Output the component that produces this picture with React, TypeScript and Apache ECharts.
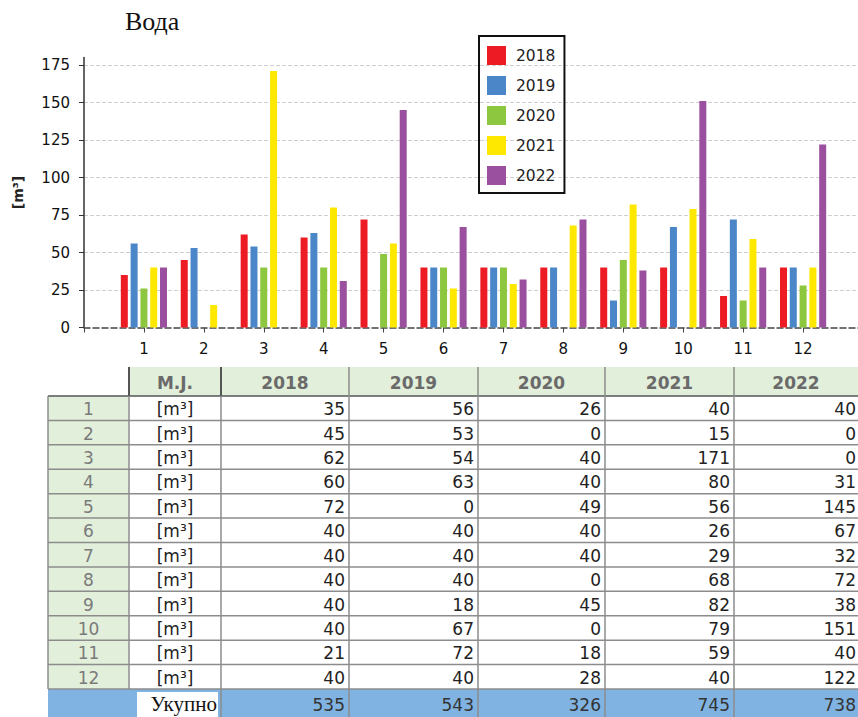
import React, { useEffect, useRef } from "react";
import * as echarts from "echarts";

const months = [1, 2, 3, 4, 5, 6, 7, 8, 9, 10, 11, 12];
const years = ["2018", "2019", "2020", "2021", "2022"];
const s2018 = [35, 45, 62, 60, 72, 40, 40, 40, 40, 40, 21, 40];
const s2019 = [56, 53, 54, 63, 0, 40, 40, 40, 18, 67, 72, 40];
const s2020 = [26, 0, 40, 40, 49, 40, 40, 0, 45, 0, 18, 28];
const s2021 = [40, 15, 171, 80, 56, 26, 29, 68, 82, 79, 59, 40];
const s2022 = [40, 0, 0, 31, 145, 67, 32, 72, 38, 151, 40, 122];
const seriesValues = [s2018, s2019, s2020, s2021, s2022];
const colors = ["#ED1C24", "#4A86C8", "#8DC63F", "#FFE800", "#9B4F9F"];
const unitLabel = "[m³]";
const unitHeader = "M.J.";
const totalLabel = "Укупно";
const chartTitle = "Вода";

const FONT = "DejaVu Sans";

function buildTable(): any[] {
  const colX = [48, 129, 221, 349, 478, 605, 734, 858];
  const headTop = 367;
  const headH = 29;
  const rowTop = 396;
  const rowH = 24.42;
  const totTop = rowTop + rowH * months.length;
  const totH = 30;
  const els: any[] = [];
  const grid = "#8c8c8c";
  const dark = "#555";
  els.push({ type: "rect", shape: { x: colX[1], y: headTop, width: 858 - colX[1], height: headH }, style: { fill: "#E2EFDA" } });
  els.push({ type: "rect", shape: { x: colX[0], y: rowTop, width: colX[1] - colX[0], height: rowH * months.length }, style: { fill: "#E2EFDA" } });
  els.push({ type: "rect", shape: { x: colX[0], y: totTop, width: 858 - colX[0], height: totH }, style: { fill: "#80B3E1" } });
  els.push({ type: "rect", shape: { x: 137, y: totTop + 3, width: 81, height: totH }, style: { fill: "#ffffff" } });
  for (let i = 0; i <= months.length; i++) {
    const y = rowTop + i * rowH;
    els.push({ type: "line", shape: { x1: colX[0], y1: y, x2: 858, y2: y }, style: { stroke: i === 0 ? dark : grid, lineWidth: 1.5 } });
  }
  for (let c = 0; c < colX.length - 1; c++) {
    els.push({ type: "line", shape: { x1: colX[c], y1: rowTop, x2: colX[c], y2: totTop }, style: { stroke: grid, lineWidth: 1.5 } });
  }
  for (let c = 1; c < colX.length - 1; c++) {
    els.push({ type: "line", shape: { x1: colX[c], y1: headTop, x2: colX[c], y2: rowTop }, style: { stroke: c <= 2 ? dark : grid, lineWidth: c <= 2 ? 2 : 1.5 } });
  }
  for (let c = 2; c < colX.length - 1; c++) {
    els.push({ type: "line", shape: { x1: colX[c], y1: totTop, x2: colX[c], y2: 717 }, style: { stroke: grid, lineWidth: 1.5 } });
  }
  const headTexts = [unitHeader, ...years];
  headTexts.forEach((t, i) => {
    els.push({ type: "text", x: (colX[i + 1] + colX[i + 2]) / 2, y: headTop + headH / 2 + 1, style: { text: t, fill: "#6a6a6a", font: `bold 17px "${FONT}"`, align: "center", verticalAlign: "middle" } });
  });
  months.forEach((m, r) => {
    const cy = rowTop + r * rowH + rowH / 2 + 1;
    els.push({ type: "text", x: (colX[0] + colX[1]) / 2, y: cy, style: { text: String(m), fill: "#7a7a7a", font: `17px "${FONT}"`, align: "center", verticalAlign: "middle" } });
    els.push({ type: "text", x: (colX[1] + colX[2]) / 2, y: cy, style: { text: unitLabel, fill: "#222", font: `17px "${FONT}"`, align: "center", verticalAlign: "middle" } });
    seriesValues.forEach((vals, c) => {
      const right = c === 4 ? 856 : colX[c + 3] - 4;
      els.push({ type: "text", x: right, y: cy, style: { text: String(vals[r]), fill: "#222", font: `17px "${FONT}"`, align: "right", verticalAlign: "middle" } });
    });
  });
  const tcy = totTop + 15;
  els.push({ type: "text", x: 217, y: tcy, style: { text: totalLabel, fill: "#111", font: `21px "Liberation Serif"`, align: "right", verticalAlign: "middle" } });
  seriesValues.forEach((vals, c) => {
    const total = vals.reduce((a, b) => a + b, 0);
    const right = c === 4 ? 856 : colX[c + 3] - 4;
    els.push({ type: "text", x: right, y: tcy + 1, style: { text: String(total), fill: "#333", font: `17px "${FONT}"`, align: "right", verticalAlign: "middle" } });
  });
  return els;
}

export default function App() {
  const ref = useRef<HTMLDivElement>(null);
  useEffect(() => {
    document.body.style.margin = "0";
    const chart = echarts.init(ref.current!, null, { renderer: "svg" });
    chart.setOption({
      animation: false,
      title: {
        text: chartTitle,
        left: 125,
        top: 8,
        padding: 0,
        textStyle: { fontFamily: "Liberation Serif", fontSize: 26, fontWeight: "normal", color: "#111" },
      },
      legend: {
        orient: "vertical",
        left: 479,
        top: 36,
        padding: [10, 9, 8, 8],
        itemWidth: 19,
        itemHeight: 19,
        itemGap: 11,
        borderColor: "#111",
        borderWidth: 2,
        icon: "rect",
        data: years,
        textStyle: { fontFamily: FONT, fontSize: 15.5, color: "#222", padding: [0, 0, 0, 5] },
      },
      grid: { left: 84, top: 57.5, width: 779, height: 270, containLabel: false, outerBoundsMode: "none" },
      xAxis: {
        type: "value",
        min: 0,
        max: 13,
        interval: 1,
        axisLine: { show: true, lineStyle: { color: "#444", type: "dashed", width: 1.5 } },
        axisTick: { show: true, length: 5, lineStyle: { color: "#444" } },
        splitLine: { show: false },
        axisLabel: {
          margin: 14,
          fontFamily: FONT,
          fontSize: 15,
          color: "#111",
          formatter: (v: number) => (v >= 1 && v <= 12 ? String(v) : ""),
        },
      },
      yAxis: {
        type: "value",
        min: 0,
        max: 180,
        interval: 25,
        name: unitLabel,
        nameLocation: "middle",
        nameGap: 59,
        nameTextStyle: { fontFamily: FONT, fontSize: 14, fontWeight: "bold", color: "#222" },
        axisLine: { show: true, lineStyle: { color: "#333", width: 1.5 } },
        axisTick: { show: true, length: 5, lineStyle: { color: "#333" } },
        axisLabel: { margin: 14, fontFamily: FONT, fontSize: 15, color: "#111", showMaxLabel: false },
        splitLine: { show: true, showMinLine: false, showMaxLine: false, lineStyle: { color: "#cfcfcf", type: "dashed" } },
      },
      series: years.map((y, i) => ({
        name: y,
        type: "bar",
        barWidth: 7,
        barGap: "40%",
        itemStyle: { color: colors[i] },
        data: months.map((m, k) => [m, seriesValues[i][k]]),
      })),
      graphic: buildTable(),
    });
    return () => chart.dispose();
  }, []);
  return <div ref={ref} style={{ width: 858, height: 717 }} />;
}
